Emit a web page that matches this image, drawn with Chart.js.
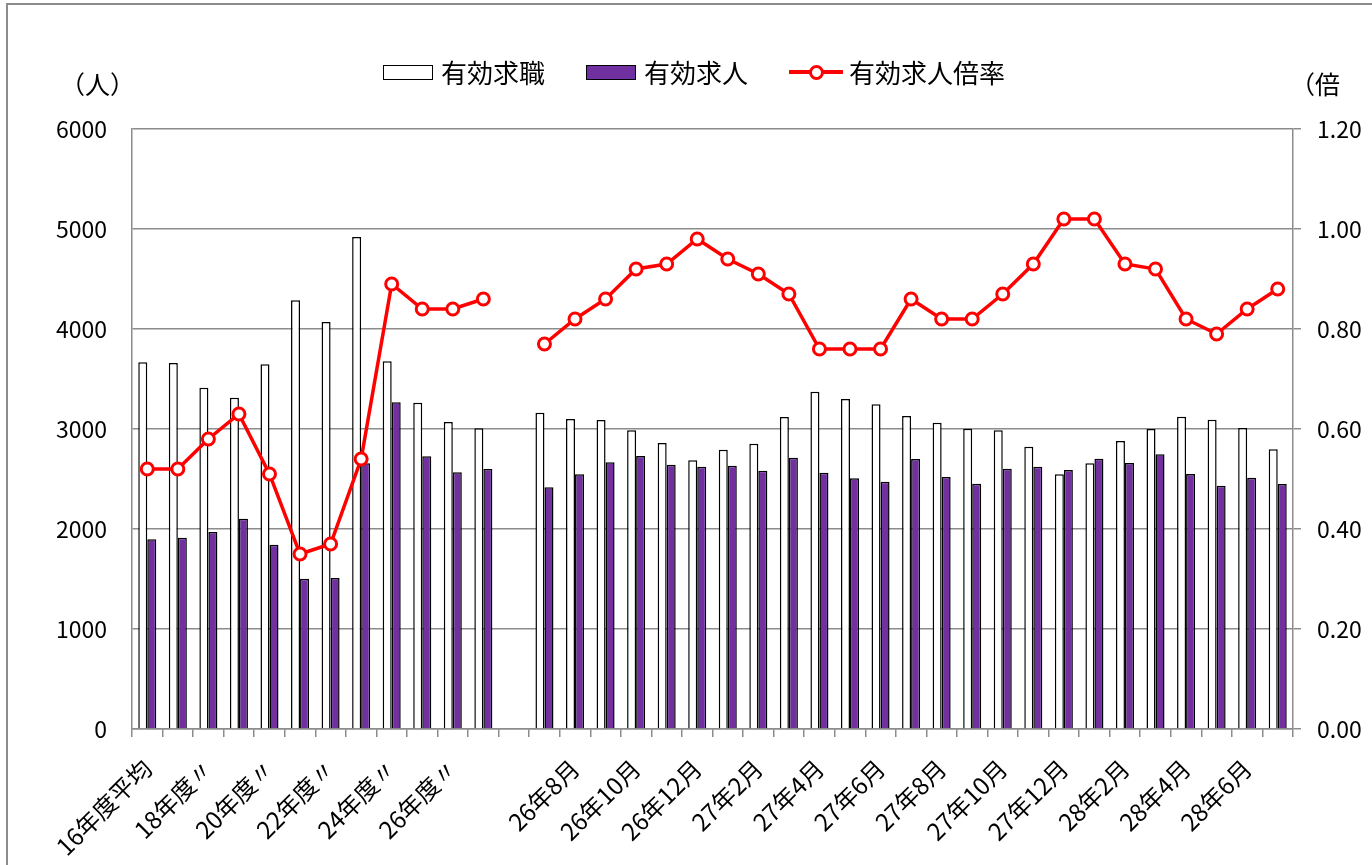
<!DOCTYPE html>
<html lang="ja">
<head>
<meta charset="utf-8">
<script src="https://cdn.jsdelivr.net/npm/chart.js@4/dist/chart.umd.min.js"></script>
<style>
  html, body { margin: 0; padding: 0; background: #fff; overflow: hidden; }
  #wrap { position: relative; width: 1372px; height: 865px; }
  #frame { position: absolute; left: 6px; top: 3px; width: 1500px; height: 1000px; border: 2px solid #8c8c8c; box-sizing: border-box; }
  canvas { position: absolute; left: 0; top: 0; }
  .txt { position: absolute; font-family: "Noto Sans CJK JP", sans-serif; color: #000; line-height: 1; white-space: nowrap; }
  .unit { font-size: 25px; top: 71px; }
  #legend { position: absolute; top: 59px; left: 383px; display: flex; align-items: center; font-family: "Noto Sans CJK JP", sans-serif; font-size: 26px; line-height: 1; }
  .box { width: 48px; height: 13px; border: 1.5px solid #000; margin-right: 8px; }
  .sym { position: relative; width: 54px; height: 24px; margin-right: 6px; }
  .sym .ln { position: absolute; left: 0; right: 0; top: 10px; height: 4px; background: #f00; }
  .sym .pt { position: absolute; left: 20px; top: 5px; width: 9px; height: 9px; border: 3px solid #f00; border-radius: 50%; background: #fff; }
</style>
</head>
<body>
<div id="wrap">
  <div id="frame"></div>
  <canvas id="jobChart" width="1372" height="865"></canvas>
  <div class="txt unit" style="left:60px;">（人）</div>
  <div class="txt unit" style="left:1290px;">（倍</div>
  <div id="legend">
    <div class="box" style="background:#fff;"></div><span style="margin-right:41px;">有効求職</span>
    <div class="box" style="background:#7030a0;"></div><span style="margin-right:41px;">有効求人</span>
    <div class="sym"><div class="ln"></div><div class="pt"></div></div><span>有効求人倍率</span>
  </div>
</div>
<script>
// 年度平均（16〜27年度）
const annualLabels = ['16年度平均', '17年度〃', '18年度〃', '19年度〃', '20年度〃', '21年度〃',
  '22年度〃', '23年度〃', '24年度〃', '25年度〃', '26年度〃', '27年度〃'];
const annualSeekers = [3667, 3660, 3413, 3313, 3647, 4287, 4070, 4920, 3677, 3263, 3070, 3007];
const annualOpenings = [1897, 1913, 1970, 2103, 1843, 1503, 1510, 2657, 3267, 2727, 2567, 2600];
const annualRatio = [0.52, 0.52, 0.58, 0.63, 0.51, 0.35, 0.37, 0.54, 0.89, 0.84, 0.84, 0.86];

// 月別（26年7月〜28年7月）
const monthLabels = ['26年7月', '26年8月', '26年9月', '26年10月', '26年11月', '26年12月',
  '27年1月', '27年2月', '27年3月', '27年4月', '27年5月', '27年6月', '27年7月', '27年8月',
  '27年9月', '27年10月', '27年11月', '27年12月', '28年1月', '28年2月', '28年3月', '28年4月',
  '28年5月', '28年6月', '28年7月'];
const monthSeekers = [3163, 3100, 3090, 2987, 2860, 2687, 2793, 2853, 3120, 3373, 3300, 3247, 3130,
  3063, 3003, 2987, 2823, 2547, 2657, 2880, 3000, 3123, 3093, 3010, 2797];
const monthOpenings = [2417, 2547, 2667, 2730, 2643, 2623, 2633, 2583, 2713, 2563, 2507, 2473, 2700,
  2520, 2453, 2603, 2623, 2590, 2703, 2660, 2747, 2550, 2433, 2513, 2450];
const monthRatio = [0.77, 0.82, 0.86, 0.92, 0.93, 0.98, 0.94, 0.91, 0.87, 0.76, 0.76, 0.76, 0.86,
  0.82, 0.82, 0.87, 0.93, 1.02, 1.02, 0.93, 0.92, 0.82, 0.79, 0.84, 0.88];

const leftTicks = [0, 1000, 2000, 3000, 4000, 5000, 6000];
const rightTicks = [0, 0.2, 0.4, 0.6, 0.8, 1.0, 1.2];

// 年度と月別の間は空欄を1つ入れる
const categories = [...annualLabels, '', ...monthLabels];
const seekers = [...annualSeekers, null, ...monthSeekers];
const openings = [...annualOpenings, null, ...monthOpenings];
const ratio = [...annualRatio, null, ...monthRatio];

const axisGray = '#8c8c8c';
const tickFont = { family: '"Noto Sans CJK JP", sans-serif', size: 23 };
const catFont = { family: '"Noto Sans CJK JP", sans-serif', size: 24 };

new Chart(document.getElementById('jobChart'), {
  data: {
    labels: categories,
    datasets: [
      {
        type: 'line',
        label: '有効求人倍率',
        data: ratio,
        yAxisID: 'y1',
        order: 0,
        borderColor: '#ff0000',
        borderWidth: 3.5,
        pointRadius: 6,
        pointBorderWidth: 3,
        pointBackgroundColor: '#ffffff',
        pointBorderColor: '#ff0000',
        spanGaps: false,
        tension: 0
      },
      {
        type: 'bar',
        label: '有効求職',
        data: seekers,
        yAxisID: 'y',
        order: 1,
        backgroundColor: '#ffffff',
        borderColor: '#000000',
        borderWidth: 1.5,
        categoryPercentage: 0.59,
        barPercentage: 1.0
      },
      {
        type: 'bar',
        label: '有効求人',
        data: openings,
        yAxisID: 'y',
        order: 2,
        backgroundColor: '#7030a0',
        borderColor: '#000000',
        borderWidth: 1.5,
        categoryPercentage: 0.59,
        barPercentage: 1.0
      }
    ]
  },
  options: {
    responsive: false,
    animation: false,
    layout: { padding: { top: 129, left: 0, right: 0, bottom: 0 } },
    plugins: { legend: { display: false }, tooltip: { enabled: false } },
    scales: {
      x: {
        offset: true,
        grid: { drawOnChartArea: false, offset: true, color: axisGray, lineWidth: 1.5, tickLength: 8 },
        border: { color: axisGray, width: 1.5 },
        ticks: {
          autoSkip: false,
          minRotation: 45,
          maxRotation: 45,
          padding: 17,
          color: '#000',
          font: catFont,
          callback: (v, i) => (i % 2 === 0 ? categories[i] : '')
        },
        afterFit: s => { s.height = 136; }
      },
      y: {
        position: 'left',
        min: leftTicks[0],
        max: leftTicks[leftTicks.length - 1],
        grid: { color: axisGray, lineWidth: 1.5, drawTicks: false },
        border: { color: axisGray, width: 1.5 },
        ticks: { stepSize: 1000, padding: 25, color: '#000', font: tickFont, callback: v => String(v) },
        afterFit: s => { s.width = 132; }
      },
      y1: {
        position: 'right',
        min: rightTicks[0],
        max: rightTicks[rightTicks.length - 1],
        grid: { drawOnChartArea: false, color: axisGray, lineWidth: 1.5, tickLength: 8 },
        border: { color: axisGray, width: 1.5 },
        ticks: { stepSize: 0.2, padding: 16, color: '#000', font: tickFont, callback: v => v.toFixed(2) },
        afterFit: s => { s.width = 79; }
      }
    }
  }
});
</script>
</body>
</html>
